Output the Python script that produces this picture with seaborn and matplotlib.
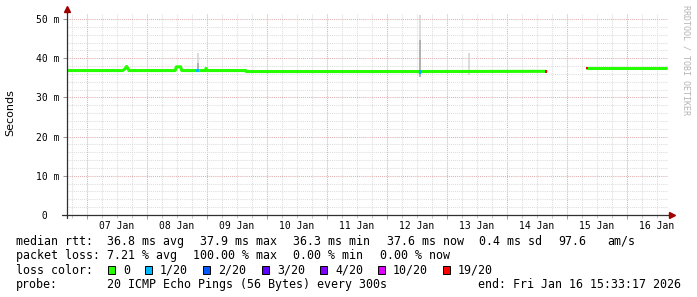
import numpy as np
import pandas as pd
import matplotlib
matplotlib.use("Agg")
import matplotlib.pyplot as plt
from matplotlib.patches import Rectangle
import seaborn as sns

# ---------------- data (time = day of January 2026, value = ms) ----------------
med_t = [6.667, 7.60, 7.635, 7.66, 7.685, 7.70, 8.47, 8.49, 8.56, 8.58, 8.842,
         8.97, 8.985, 9.00, 9.650, 9.655, 12.54, 12.55, 12.56, 14.65,
         15.333, 15.36, 16.648]
med_ms = [36.85, 36.85, 37.3, 37.9, 37.3, 36.85, 36.85, 37.8, 37.8, 36.85, 36.85,
          36.85, 37.4, 36.85, 36.85, 36.6, 36.6, 36.3, 36.6, 36.65,
          37.55, 37.55, 37.55]
med_seg = [0] * 20 + [1] * 3

# smoke (min/max spread of pings)
smoke_t = [7.45, 8.842, 10.917, 11.117, 11.767, 12.55, 13.367, 14.35, 14.467]
smoke_lo = [36.8, 36.8, 36.5, 36.5, 36.5, 35.1, 35.7, 36.5, 36.5]
smoke_hi = [37.3, 41.3, 37.0, 37.0, 37.0, 51.0, 41.3, 37.1, 37.0]
dark_t = [8.842, 12.55]
dark_lo = [36.8, 35.3]
dark_hi = [38.8, 44.6]

# loss events on the median line
loss_t = [8.842, 12.55, 12.56, 14.65, 15.333]
loss_ms = [36.85, 36.3, 36.6, 36.65, 37.55]
loss_lvl = ["1/20", "1/20", "1/20", "19/20", "19/20"]

loss_names = ["0", "1/20", "2/20", "3/20", "4/20", "10/20", "19/20"]
loss_colors = ["#26ff00", "#00b8ff", "#0059ff", "#5e00ff", "#7e00ff", "#dd00ff", "#ff0000"]

label_days = [7, 8, 9, 10, 11, 12, 13, 14, 15, 16]
day_labels = ["07 Jan", "08 Jan", "09 Jan", "10 Jan", "11 Jan", "12 Jan",
              "13 Jan", "14 Jan", "15 Jan", "16 Jan"]
y_ticks = [0, 10, 20, 30, 40, 50]
y_labels = [" 0", "10 m", "20 m", "30 m", "40 m", "50 m"]

# ---------------- figure ----------------
sns.set_theme(style="white")
plt.rcParams["font.family"] = ["DejaVu Sans"]
MONO = "DejaVu Sans Mono"

W, H = 697, 297
fig = plt.figure(figsize=(W / 100, H / 100), dpi=100)
fig.patch.set_facecolor("white")
L, R, B, T = 67, 668, 215, 13
ax = fig.add_axes([L / W, 1 - B / H, (R - L) / W, (B - T) / H])
ax.set_facecolor("white")

XMIN = 6.667
XMAX = XMIN + (R - L) / 60.0
ax.set_xlim(XMIN, XMAX)
ax.set_ylim(0, (B - T) / 3.92)

# smoke
ax.vlines(smoke_t, smoke_lo, smoke_hi, colors="#d2d2d2", lw=1.1, zorder=2)
ax.vlines(dark_t, dark_lo, dark_hi, colors="#a4a4a4", lw=1.1, zorder=2.1)

# median line
med_df = pd.DataFrame({"t": med_t, "ms": med_ms, "seg": med_seg})
sns.lineplot(data=med_df, x="t", y="ms", units="seg", estimator=None,
             color=loss_colors[0], linewidth=2.2, ax=ax, legend=False, zorder=3)

# loss colour marks
loss_df = pd.DataFrame({"t": loss_t, "ms": loss_ms, "lvl": loss_lvl})
sns.scatterplot(data=loss_df, x="t", y="ms", hue="lvl",
                palette=dict(zip(loss_names, loss_colors)), marker="s", s=3.5,
                linewidth=0, ax=ax, legend=False, zorder=4)

ax.set_xlabel("")
ax.set_ylabel("")

# ticks & grid
ax.set_xticks(label_days, labels=[""] * len(label_days))
minor_x = []
minor_lab = []
for d in range(6, 17):
    for q in (0.25, 0.5, 0.75):
        v = d + q
        if XMIN < v < XMAX:
            minor_x.append(v)
            minor_lab.append(day_labels[label_days.index(d)] if (q == 0.5 and d in label_days) else "")
ax.set_xticks(minor_x, labels=minor_lab, minor=True)
ax.set_yticks(y_ticks, labels=y_labels)
ax.set_yticks(np.arange(2, 52, 2)[[v % 10 != 0 for v in np.arange(2, 52, 2)]], minor=True)

ax.grid(which="minor", color="#dedede", linestyle=(0, (1, 1)), linewidth=0.75)
ax.grid(which="major", color="#deb0b0", linestyle=(0, (1, 1)), linewidth=0.75)
ax.set_axisbelow(True)

ax.tick_params(axis="x", which="major", length=3, width=0.75, color="#c89090",
               direction="out", bottom=True)
ax.tick_params(axis="x", which="minor", length=2, width=0.75, color="#c8c8c8",
               direction="out", bottom=True, pad=2.5, labelsize=7, labelcolor="#000000")
ax.tick_params(axis="y", which="major", length=3, width=0.75, color="#999999",
               direction="out", left=True, pad=21.6 - 2.16, labelsize=7, labelcolor="#000000")
ax.tick_params(axis="y", which="minor", length=0)
for lab in ax.get_xticklabels(minor=True):
    lab.set_fontfamily(MONO)
for lab in ax.get_yticklabels():
    lab.set_fontfamily(MONO)
    lab.set_horizontalalignment("left")

for s in ["top", "right", "left", "bottom"]:
    ax.spines[s].set_visible(False)

# axes lines with arrows
def fx(px):
    return px / W

def fy(py):
    return 1 - py / H

axis_col = "#303030"
fig.add_artist(plt.Line2D([fx(L), fx(L)], [fy(B + 3), fy(T - 2)], color=axis_col, lw=0.9))
fig.add_artist(plt.Line2D([fx(L - 5), fx(R + 2)], [fy(B), fy(B)], color=axis_col, lw=0.9))
fig.add_artist(plt.Line2D([fx(L)], [fy(T - 4)], marker="^", markersize=4.5,
                          color="#a00000", linestyle="none"))
fig.add_artist(plt.Line2D([fx(R + 4)], [fy(B)], marker=">", markersize=4.5,
                          color="#a00000", linestyle="none"))

# y label and watermark
fig.text(fx(10), fy(113), "Seconds", rotation=90, ha="center", va="center",
         fontsize=8, color="#000000")
fig.text(fx(686), fy(60), "RRDTOOL / TOBI OETIKER", rotation=270, ha="center",
         va="center", fontsize=6, family=MONO, color="#b4b4b4")

# legend text
LF = 8.4
rows = [
    (245, [(16, "median rtt:"), (107, "36.8 ms avg"), (200, "37.9 ms max"),
           (293, "36.3 ms min"), (387, "37.6 ms now"), (479, "0.4 ms sd"),
           (558, "97.6"), (607, "am/s")]),
    (259.3, [(16, "packet loss:"), (107, "7.21 % avg"), (193, "100.00 % max"),
             (293, "0.00 % min"), (380, "0.00 % now")]),
    (287.7, [(16, "probe:"), (107, "20 ICMP Echo Pings (56 Bytes) every 300s"),
             (478, "end: Fri Jan 16 15:33:17 2026")]),
]
for yb, segs in rows:
    for xp, txt in segs:
        fig.text(fx(xp), fy(yb), txt, ha="left", va="baseline", fontsize=LF,
                 family=MONO, color="#000000")

fig.text(fx(16), fy(273.5), "loss color:", ha="left", va="baseline", fontsize=LF,
         family=MONO, color="#000000")
sq_x = [108, 145, 203, 262, 320, 378, 443]
for xp, name, col in zip(sq_x, loss_names, loss_colors):
    fig.add_artist(Rectangle((fx(xp), fy(273.5)), 7 / W, 8 / H, facecolor=col,
                             edgecolor="#000000", linewidth=0.7))
    fig.text(fx(xp + 15), fy(273.5), name, ha="left", va="baseline", fontsize=LF,
             family=MONO, color="#000000")

fig.savefig("out.png", dpi=100, facecolor="white")
